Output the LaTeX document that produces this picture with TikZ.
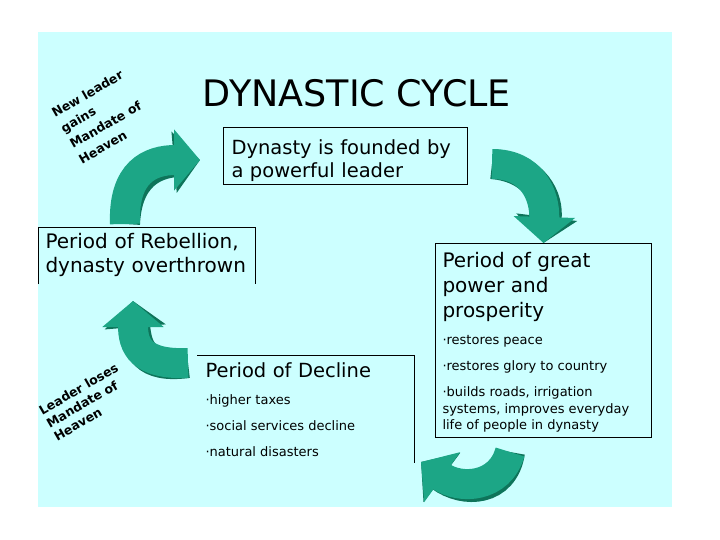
\documentclass[tikz,border=0pt]{standalone}
\usepackage{fontspec}
\setmainfont{DejaVu Sans}
\usepackage{xcolor}
\usetikzlibrary{arrows.meta, positioning}

\definecolor{slidecyan}{RGB}{204,255,255}
\definecolor{arrowteal}{RGB}{28,166,134}
\definecolor{arrowdark}{RGB}{14,116,90}

% small text for the bullet points
\newcommand{\itemfont}{\fontsize{13}{16.5}\selectfont\spaceskip=0pt\xspaceskip=0pt\relax}

\tikzset{
  stagebox/.style={anchor=north west, align=left, inner ysep=0pt, line width=1pt},
  cyclearrow/.style={line width=30pt, draw=arrowteal, -{Triangle[length=26pt, width=60pt]}},
  arrowshade/.style={line width=30pt, draw=arrowdark, -{Triangle[length=26pt, width=60pt]}, xshift=4pt, yshift=-4pt},
  mandate/.style={font=\bfseries\fontsize{12.5}{18}\selectfont, align=left, rotate=30}
}

\begin{document}
\begin{tikzpicture}[x=1pt, y=-1pt]
    \useasboundingbox[fill=white] (0,0) rectangle (720,540);
    % Slide background
    \fill[slidecyan] (38,32) rectangle (672,507);

    % Title
    \node[anchor=base, font=\fontsize{36.5}{42}\selectfont] (title) at (357,107) {DYNASTIC CYCLE};

    % Stages of the cycle
    \node[stagebox, draw, inner xsep=8pt, text width=228pt, text height=27pt, text depth=30pt,
          font=\fontsize{19.5}{23}\selectfont] (founded) at (223,127) {Dynasty is founded by\\a powerful leader\par};

    \node[stagebox, draw, inner xsep=7pt, text width=202pt, text height=24pt, text depth=170pt,
          font=\fontsize{20}{25}\selectfont] (prosper) at (435,243) {Period of great\\power and\\prosperity\par
        \vspace{10.5pt}\itemfont
        ·restores peace\par\vspace{9.5pt}
        ·restores glory to country\par\vspace{9.5pt}
        ·builds roads, irrigation\\systems, improves everyday\\life of people in dynasty\par};

    \node[stagebox, inner xsep=8pt, text width=200pt, text height=22pt, text depth=85pt,
          font=\fontsize{19.5}{25}\selectfont] (decline) at (197,355) {Period of Decline\par
        \vspace{10.5pt}\itemfont
        ·higher taxes\par\vspace{9.5pt}
        ·social services decline\par\vspace{9.5pt}
        ·natural disasters\par};
    \draw[line width=1pt] (decline.north west) -| (decline.south east);

    \node[stagebox, inner xsep=7pt, text width=202pt, text height=20pt, text depth=35pt,
          font=\fontsize{20}{24}\selectfont] (rebellion) at (38,228) {Period of Rebellion,\\dynasty overthrown\par};
    \draw[line width=1pt] (rebellion.south west) |- (rebellion.north east) -- (rebellion.south east);

    % Mandate of Heaven notes
    \node[mandate] (gains) at (101,117) {New leader\\gains\\Mandate of\\Heaven};
    \node[mandate, font=\bfseries\fontsize{12.5}{15}\selectfont] (loses) at (86,402) {Leader loses\\Mandate of\\Heaven};

    % Cycle arrows
    \coordinate (a1s) at (125,224);
    \coordinate (a1e) at (200,160);
    \draw[arrowshade] (a1s) .. controls (123,172) and (150,160) .. (a1e);
    \draw[cyclearrow] (a1s) .. controls (123,172) and (150,160) .. (a1e);

    \coordinate (a2s) at (492,164);
    \draw[arrowshade] (a2s) .. controls (532,164) and (545,195) .. (prosper.north);
    \draw[cyclearrow] (a2s) .. controls (532,164) and (545,195) .. (prosper.north);

    \coordinate (a3s) at (510,452);
    \coordinate (a3e) at (421,462);
    \draw[arrowshade] (a3s) .. controls (500,488) and (460,490) .. (a3e);
    \draw[cyclearrow] (a3s) .. controls (500,488) and (460,490) .. (a3e);

    \coordinate (a4s) at (188,363);
    \coordinate (a4e) at (133,301);
    \draw[arrowshade] (a4s) .. controls (140,365) and (133,345) .. (a4e);
    \draw[cyclearrow] (a4s) .. controls (140,365) and (133,345) .. (a4e);
\end{tikzpicture}
\end{document}
